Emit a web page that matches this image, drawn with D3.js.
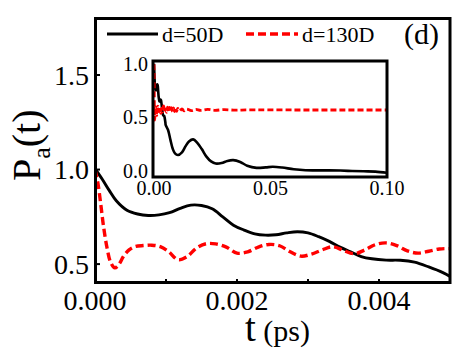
<!DOCTYPE html>
<html><head><meta charset="utf-8">
<script src="https://cdn.jsdelivr.net/npm/d3@7"></script>
<style>body{margin:0;background:#fff}svg{display:block}</style>
</head><body><div id="c"></div>
<script>
// ---- data ----
const blackT = [0,0.0001,0.0002,0.0003,0.00045,0.0006,0.00075,0.0009,0.00105,0.0012,0.00135,0.0015,0.00165,0.0018,0.00195,0.0021,0.00225,0.0024,0.00255,0.0027,0.00285,0.003,0.00315,0.0033,0.00345,0.0036,0.00375,0.0039,0.0041,0.0043,0.0045,0.0047,0.0049,0.005];
const blackV = [1.005,0.95,0.89,0.835,0.785,0.765,0.757,0.76,0.772,0.795,0.812,0.81,0.793,0.75,0.706,0.68,0.66,0.653,0.655,0.665,0.671,0.665,0.645,0.62,0.59,0.565,0.54,0.528,0.521,0.52,0.51,0.485,0.455,0.435];
const redT = [0,0.00004,0.00008,0.00012,0.00017,0.00022,0.00028,0.00034,0.0004,0.00048,0.00056,0.00068,0.0008,0.00092,0.00104,0.00117,0.0013,0.00143,0.00157,0.0017,0.00185,0.002,0.00215,0.0023,0.00245,0.0026,0.00275,0.0029,0.00305,0.0032,0.00335,0.0035,0.00365,0.0038,0.00395,0.0041,0.00425,0.0044,0.00455,0.0047,0.00485,0.005];
const redV = [1.0,0.93,0.82,0.70,0.585,0.51,0.48,0.5,0.54,0.575,0.592,0.598,0.6,0.592,0.565,0.523,0.54,0.585,0.608,0.607,0.59,0.558,0.565,0.59,0.604,0.597,0.565,0.542,0.553,0.575,0.592,0.572,0.555,0.575,0.603,0.612,0.598,0.57,0.558,0.568,0.58,0.582];
// inset continuation beyond t = 0.005
const blackTailT = [0.006,0.007,0.008,0.009,0.0103,0.012,0.0135,0.015,0.0168,0.0185,0.0205,0.0225,0.0245,0.0265,0.029,0.0315,0.034,0.037,0.04,0.044,0.048,0.051,0.055,0.06,0.065,0.07,0.075,0.08,0.085,0.09,0.095,0.1];
const blackTailV = [0.39,0.3,0.215,0.17,0.155,0.18,0.235,0.28,0.3,0.27,0.21,0.14,0.095,0.075,0.08,0.1,0.107,0.09,0.055,0.035,0.04,0.045,0.038,0.022,0.013,0.012,0.012,0.01,0.006,0.003,0.0,-0.01];
const redTailT = [0.0054,0.0058,0.0063,0.0067,0.0071,0.0075,0.008,0.0084,0.0088,0.0093,0.0097,0.0102,0.011,0.012,0.013,0.014,0.016,0.018,0.02,0.023,0.026,0.03,0.035,0.04,0.06,0.08,0.1];
const redTailV = [0.553,0.6,0.555,0.598,0.558,0.595,0.56,0.593,0.56,0.59,0.562,0.588,0.565,0.585,0.566,0.583,0.568,0.58,0.57,0.579,0.571,0.577,0.572,0.575,0.574,0.574,0.574];
const mainXTicks = [0,0.002,0.004];
const mainXMinor = [0.001,0.002,0.003,0.004];
const mainYTicks = [0.5,1.0,1.5];
const insetXTicks = [0,0.05,0.1];
const insetYTicks = [0,0.5,1.0];
const seriesNames = ["d=50D","d=130D"];
const panelLabel = "(d)";

// ---- layout ----
const FONT = "'Liberation Serif', 'DejaVu Serif', 'Times New Roman', serif";
const W=472,H=354;
const svg=d3.select("#c").append("svg").attr("width",W).attr("height",H)
  .attr("font-family",FONT);
svg.append("rect").attr("width",W).attr("height",H).attr("fill","#fff");

const x=d3.scaleLinear().domain([0,0.005]).range([95,450]);
const y=d3.scaleLinear().domain([0.4,1.8]).range([283,18.3]);

const zip=(a,b)=>a.map((t,i)=>[t,b[i]]);
const blackMain=zip(blackT,blackV), redMain=zip(redT,redV);

svg.append("clipPath").attr("id","mc").append("rect").attr("x",95).attr("y",18).attr("width",355).attr("height",265);
const line=d3.line().x(d=>x(d[0])).y(d=>y(d[1])).curve(d3.curveCatmullRom.alpha(0.5));
const gm=svg.append("g").attr("clip-path","url(#mc)");
gm.append("path").attr("d",line(blackMain)).attr("fill","none").attr("stroke","#000").attr("stroke-width",2.9);
gm.append("path").attr("d",line(redMain)).attr("fill","none").attr("stroke","#ff0000").attr("stroke-width",3.4).attr("stroke-dasharray","8,4");

// ticks inward
svg.append("g").selectAll("line").data(mainXMinor).join("line")
 .attr("x1",d=>x(d)).attr("x2",d=>x(d)).attr("y1",283).attr("y2",279).attr("stroke","#000").attr("stroke-width",2);
svg.append("g").selectAll("line").data(mainYTicks).join("line")
 .attr("x1",95).attr("x2",100).attr("y1",d=>y(d)).attr("y2",d=>y(d)).attr("stroke","#000").attr("stroke-width",2);
// frame
svg.append("rect").attr("x",95.5).attr("y",18.5).attr("width",354.5).attr("height",264).attr("fill","none").attr("stroke","#000").attr("stroke-width",3);

// tick labels
svg.append("g").selectAll("text").data(mainXTicks).join("text")
 .attr("x",d=>x(d)).attr("y",310).attr("text-anchor","middle").attr("font-size",28).text(d=>d.toFixed(3));
svg.append("g").selectAll("text").data(mainYTicks).join("text")
 .attr("x",89).attr("y",d=>y(d)+9.5).attr("text-anchor","end").attr("font-size",28).text(d=>d.toFixed(1));

// axis titles
const xt=svg.append("text").attr("x",245).attr("y",341);
xt.append("tspan").attr("font-size",39).text("t");
xt.append("tspan").attr("font-size",30).text(" (ps)");
const yt=svg.append("text").attr("transform","translate(40,181) rotate(-90)");
yt.append("tspan").attr("font-size",40).text("P");
yt.append("tspan").attr("font-size",26).attr("dy",10).text("a");
yt.append("tspan").attr("font-size",40).attr("dy",-10).text("(t)");

// legend
svg.append("line").attr("x1",107).attr("x2",158).attr("y1",34).attr("y2",34).attr("stroke","#000").attr("stroke-width",2.9);
svg.append("text").attr("x",162).attr("y",42).attr("font-size",22).text(seriesNames[0]);
svg.append("line").attr("x1",246).attr("x2",298).attr("y1",34).attr("y2",34).attr("stroke","#ff0000").attr("stroke-width",3.4).attr("stroke-dasharray","8,4");
svg.append("text").attr("x",302).attr("y",42).attr("font-size",22).text(seriesNames[1]);
svg.append("text").attr("x",404).attr("y",44).attr("font-size",30).text(panelLabel);

// ---- inset ----
const xi=d3.scaleLinear().domain([0,0.1]).range([154,387]);
const yi=d3.scaleLinear().domain([-0.05,1.03]).range([177,61]);
svg.append("rect").attr("x",153).attr("y",61).attr("width",234).attr("height",116).attr("fill","#fff");
svg.append("clipPath").attr("id","ic").append("rect").attr("x",153).attr("y",61).attr("width",234).attr("height",116);
const li=d3.line().x(d=>xi(d[0])).y(d=>yi(d[1])).curve(d3.curveCatmullRom.alpha(0.5));
const gi=svg.append("g").attr("clip-path","url(#ic)");
gi.append("path").attr("d",li(blackMain.concat(zip(blackTailT,blackTailV)))).attr("fill","none").attr("stroke","#000").attr("stroke-width",2.6);
gi.append("path").attr("d",li(redMain.concat(zip(redTailT,redTailV)))).attr("fill","none").attr("stroke","#ff0000").attr("stroke-width",2.8).attr("stroke-dasharray","6,3");
svg.append("rect").attr("x",153).attr("y",61).attr("width",234).attr("height",116).attr("fill","none").attr("stroke","#000").attr("stroke-width",3);
svg.append("g").selectAll("text").data(insetXTicks).join("text")
 .attr("x",d=>xi(d)).attr("y",195).attr("text-anchor","middle").attr("font-size",20).text(d=>d.toFixed(2));
svg.append("g").selectAll("text").data(insetYTicks).join("text")
 .attr("x",148).attr("y",d=>yi(d)+6.5).attr("text-anchor","end").attr("font-size",20).text(d=>d.toFixed(1));
</script></body></html>
